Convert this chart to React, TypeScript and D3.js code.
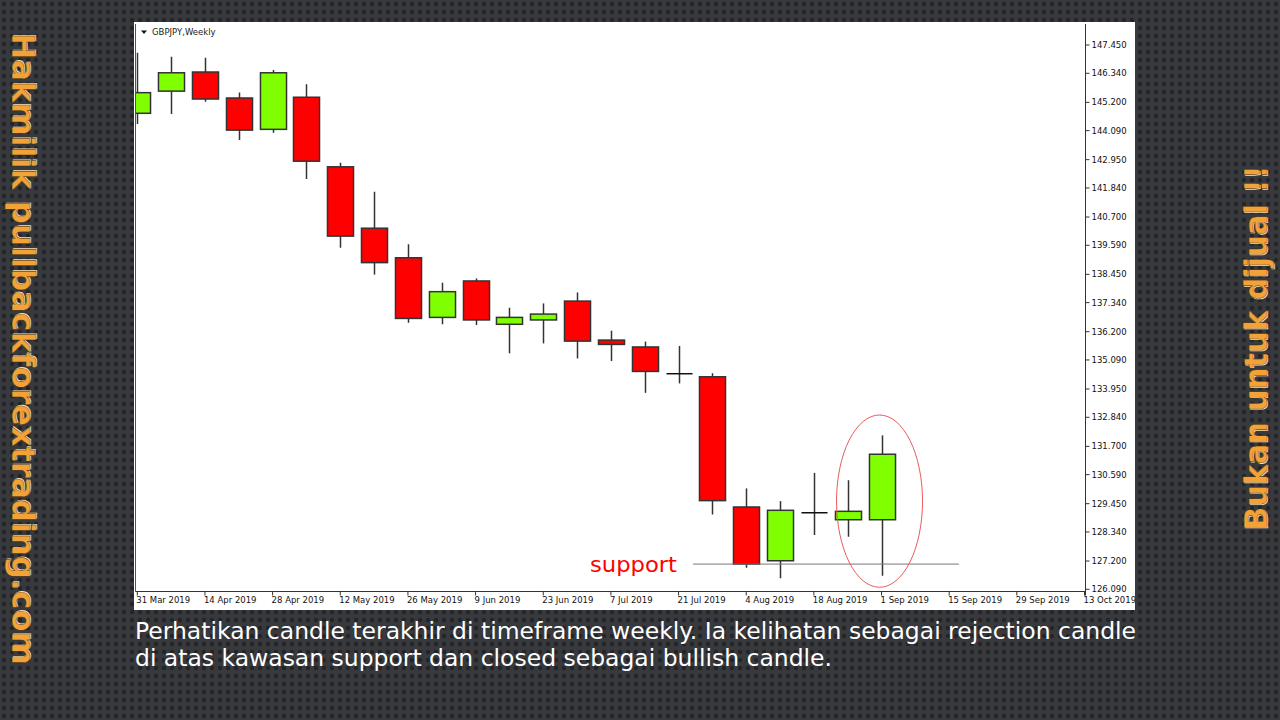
import React from "react";
import * as d3 from "d3";

// ---- data ----
const weekStarts: string[] = [
  "2019-03-31", "2019-04-07", "2019-04-14", "2019-04-21", "2019-04-28",
  "2019-05-05", "2019-05-12", "2019-05-19", "2019-05-26", "2019-06-02",
  "2019-06-09", "2019-06-16", "2019-06-23", "2019-06-30", "2019-07-07",
  "2019-07-14", "2019-07-21", "2019-07-28", "2019-08-04", "2019-08-11",
  "2019-08-18", "2019-08-25", "2019-09-01",
];
const opens: number[] = [
  144.77, 145.64, 146.39, 145.37, 144.14, 145.40, 142.67, 140.26, 139.10, 136.76,
  138.19, 136.49, 136.66, 137.40, 135.87, 135.60, 134.55, 134.43, 129.32, 127.21,
  129.09, 128.82, 128.82,
];
const highs: number[] = [
  147.15, 146.99, 146.95, 145.59, 146.47, 145.91, 142.83, 141.69, 139.63, 138.12,
  138.29, 137.14, 137.31, 137.74, 136.24, 135.81, 135.64, 134.57, 130.05, 129.55,
  130.66, 130.37, 132.13,
];
const lows: number[] = [
  144.35, 144.74, 145.22, 143.72, 144.01, 142.19, 139.49, 138.44, 136.55, 136.49,
  136.46, 135.35, 135.74, 135.15, 135.05, 133.80, 134.17, 129.03, 126.94, 126.52,
  128.22, 128.15, 126.62,
];
const closes: number[] = [
  145.58, 146.36, 145.33, 144.11, 146.36, 142.89, 139.95, 138.91, 136.72, 137.77,
  136.66, 136.76, 136.89, 135.83, 135.70, 134.64, 134.55, 129.57, 127.08, 129.19,
  129.09, 129.15, 131.39,
];
const yTickLabels: string[] = [
  "147.450", "146.340", "145.200", "144.090", "142.950", "141.840", "140.700",
  "139.590", "138.450", "137.340", "136.200", "135.090", "133.950", "132.840",
  "131.700", "130.590", "129.450", "128.340", "127.200", "126.090",
];
const xTickDates: string[] = [
  "2019-03-31", "2019-04-14", "2019-04-28", "2019-05-12", "2019-05-26",
  "2019-06-09", "2019-06-23", "2019-07-07", "2019-07-21", "2019-08-04",
  "2019-08-18", "2019-09-01", "2019-09-15", "2019-09-29", "2019-10-13",
];
const xTickLabels: string[] = [
  "31 Mar 2019", "14 Apr 2019", "28 Apr 2019", "12 May 2019", "26 May 2019",
  "9 Jun 2019", "23 Jun 2019", "7 Jul 2019", "21 Jul 2019", "4 Aug 2019",
  "18 Aug 2019", "1 Sep 2019", "15 Sep 2019", "29 Sep 2019", "13 Oct 2019",
];
const supportLevel = 127.08;
const supportFrom = "2019-07-24";
const supportTo = "2019-09-17";
const highlightDate = "2019-09-01";
const highlightRange: [number, number] = [126.17, 132.93];

const title = "GBPJPY,Weekly";
const leftText = "Hakmilik pullbackforextrading.com";
const rightText = "Bukan untuk dijual !!";
const captionLine1 =
  "Perhatikan candle terakhir di timeframe weekly. Ia kelihatan sebagai rejection candle";
const captionLine2 = "di atas kawasan support dan closed sebagai bullish candle.";

const parse = (s: string) => new Date(s + "T00:00:00Z");

export default function App() {
  const W = 1280, H = 720;
  const plotL = 135.5, plotR = 1085.5, plotT = 24, plotB = 591.5;
  const x = d3
    .scaleUtc()
    .domain([parse("2019-03-31"), parse("2019-10-13")])
    .range([137.3, 1084.5]);
  const y = d3.scaleLinear().domain([126.09, 147.45]).range([589.3, 45]);
  const step = x(parse("2019-04-07")) - x(parse("2019-03-31"));
  const bodyW = step * 0.77;

  const font = "'DejaVu Sans', Verdana, sans-serif";
  const orange = "#f2a236";

  const hx = x(parse(highlightDate));
  const ey1 = y(highlightRange[1]);
  const ey2 = y(highlightRange[0]);

  return (
    <svg
      width={W}
      height={H}
      style={{ position: "absolute", left: 0, top: 0, display: "block" }}
    >
      <defs>
        <pattern id="dots" width="8" height="8" patternUnits="userSpaceOnUse">
          <rect width="8" height="8" fill="#37393d" />
          <circle cx="4" cy="4" r="2.2" fill="#232427" />
        </pattern>
        <clipPath id="plotClip">
          <rect x={plotL + 0.5} y={plotT} width={plotR - plotL - 1} height={plotB - plotT} />
        </clipPath>
        <clipPath id="panelClip">
          <rect x={134} y={22} width={1001} height={588} />
        </clipPath>
      </defs>
      <rect width={W} height={H} fill="url(#dots)" />

      {/* chart panel */}
      <rect x={134} y={22} width={1001} height={588} fill="#ffffff" />
      <line x1={plotL} x2={plotL} y1={plotT} y2={plotB} stroke="#555" strokeWidth={1} />
      <line x1={plotR} x2={plotR} y1={plotT} y2={plotB + 4} stroke="#333" strokeWidth={1} />
      <line x1={plotL} x2={plotR} y1={plotB} y2={plotB} stroke="#333" strokeWidth={1} />

      {/* title */}
      <path d="M141,30.5 L147,30.5 L144,34 Z" fill="#111" />
      <text x={152} y={35} fontFamily={font} fontSize={8.5} fill="#222">
        {title}
      </text>

      {/* y axis */}
      {yTickLabels.map((t) => {
        const yy = y(+t);
        return (
          <g key={t}>
            <line x1={plotR} x2={plotR + 4} y1={yy} y2={yy} stroke="#333" />
            <text x={plotR + 6} y={yy + 3} fontFamily={font} fontSize={8.5} fill="#111">
              {t}
            </text>
          </g>
        );
      })}

      {/* x axis */}
      <g clipPath="url(#panelClip)">
        {xTickDates.map((d, i) => {
          const xx = x(parse(d));
          return (
            <g key={d}>
              <line x1={xx} x2={xx} y1={plotB} y2={plotB + 4} stroke="#333" />
              <text x={xx - 1} y={603} fontFamily={font} fontSize={8.5} fill="#111">
                {xTickLabels[i]}
              </text>
            </g>
          );
        })}
      </g>

      {/* candles */}
      <g clipPath="url(#plotClip)">
        {weekStarts.map((d, i) => {
          const cx = Math.round(x(parse(d))) + 0.5;
          const o = opens[i], c = closes[i];
          const top = y(Math.max(o, c));
          const bot = y(Math.min(o, c));
          const doji = o === c;
          const fill = c > o ? "#7fff00" : "#ff0000";
          return (
            <g key={d}>
              <line
                x1={cx}
                x2={cx}
                y1={y(highs[i])}
                y2={y(lows[i])}
                stroke="#333"
                strokeWidth={1.5}
              />
              {doji ? (
                <line
                  x1={cx - bodyW / 2}
                  x2={cx + bodyW / 2}
                  y1={top}
                  y2={top}
                  stroke="#111"
                  strokeWidth={1.5}
                />
              ) : (
                <rect
                  x={cx - bodyW / 2}
                  y={top}
                  width={bodyW}
                  height={Math.max(bot - top, 1)}
                  fill={fill}
                  stroke="#333"
                  strokeWidth={1.5}
                />
              )}
            </g>
          );
        })}
      </g>

      {/* support annotation */}
      <line
        x1={x(parse(supportFrom))}
        x2={x(parse(supportTo))}
        y1={y(supportLevel)}
        y2={y(supportLevel)}
        stroke="#777"
        strokeWidth={1}
      />
      <text
        x={590}
        y={572}
        fontFamily="'DejaVu Sans', sans-serif"
        fontSize={22}
        fill="#ff0000"
        textLength={87}
        lengthAdjust="spacingAndGlyphs"
      >
        support
      </text>
      <ellipse
        cx={hx - 2}
        cy={(ey1 + ey2) / 2}
        rx={43}
        ry={(ey2 - ey1) / 2}
        fill="none"
        stroke="#ec5a5a"
        strokeWidth={1}
      />

      {/* caption */}
      <text
        x={135}
        y={639}
        fontFamily="'DejaVu Sans', sans-serif"
        fontSize={23}
        fill="#ffffff"
        textLength={1001}
        lengthAdjust="spacingAndGlyphs"
      >
        {captionLine1}
      </text>
      <text
        x={135}
        y={666}
        fontFamily="'DejaVu Sans', sans-serif"
        fontSize={23}
        fill="#ffffff"
        textLength={697}
        lengthAdjust="spacingAndGlyphs"
      >
        {captionLine2}
      </text>

      {/* side watermarks */}
      <g transform="translate(12,33) rotate(90)">
        <text
          x={-1}
          y={-1}
          fontFamily="'DejaVu Sans', sans-serif"
          fontWeight="bold"
          fontSize={32}
          fill="#f3dcb0"
          textLength={632}
          lengthAdjust="spacingAndGlyphs"
        >
          {leftText}
        </text>
        <text
          x={0}
          y={0}
          fontFamily="'DejaVu Sans', sans-serif"
          fontWeight="bold"
          fontSize={32}
          fill={orange}
          stroke="#3a2a10"
          strokeWidth={0.4}
          textLength={632}
          lengthAdjust="spacingAndGlyphs"
        >
          {leftText}
        </text>
      </g>
      <g transform="translate(1267,530) rotate(-90)">
        <text
          x={-1}
          y={1}
          fontFamily="'DejaVu Sans', sans-serif"
          fontWeight="bold"
          fontSize={32}
          fill="#f3dcb0"
          textLength={365}
          lengthAdjust="spacingAndGlyphs"
        >
          {rightText}
        </text>
        <text
          x={0}
          y={0}
          fontFamily="'DejaVu Sans', sans-serif"
          fontWeight="bold"
          fontSize={32}
          fill={orange}
          stroke="#3a2a10"
          strokeWidth={0.4}
          textLength={365}
          lengthAdjust="spacingAndGlyphs"
        >
          {rightText}
        </text>
      </g>
    </svg>
  );
}
